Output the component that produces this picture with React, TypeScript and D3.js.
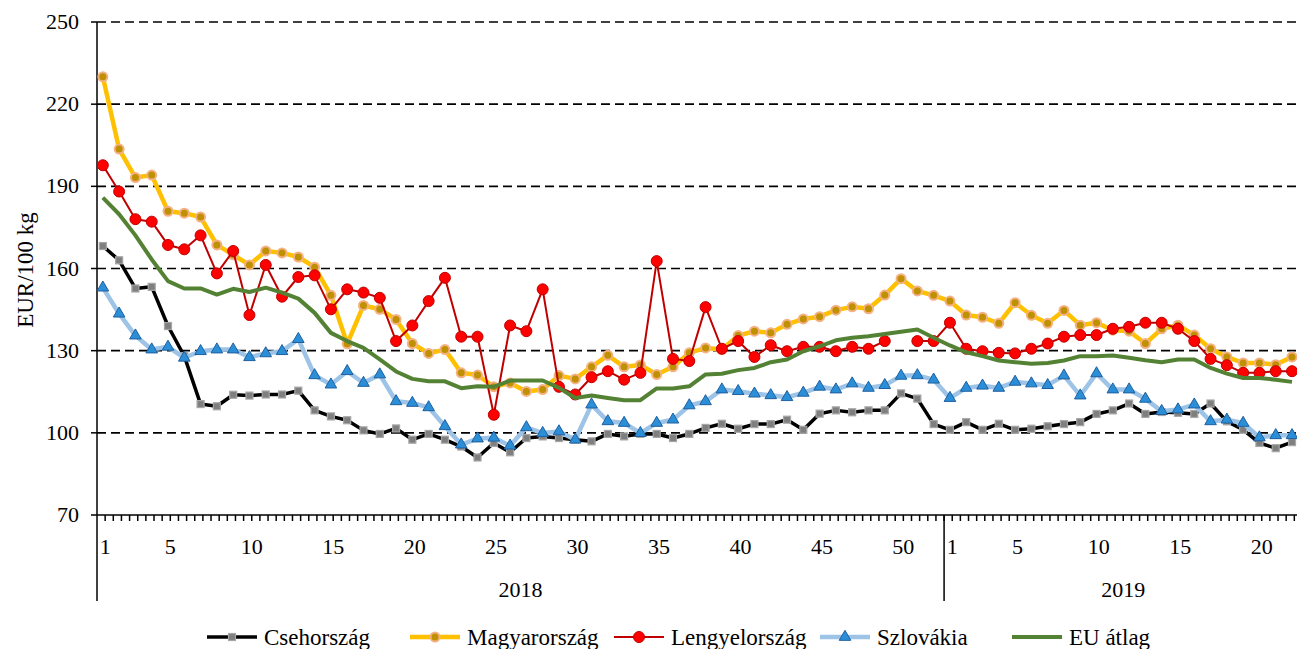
import React, { useEffect, useRef } from 'react'
import * as d3 from 'd3'

// week numbers on the category axis
const weeks2018 = d3.range(1, 53)
const weeks2019 = d3.range(1, 23)
const labelWeeks = [1, 5, 10, 15, 20, 25, 30, 35, 40, 45, 50]
const yTicks = [70, 100, 130, 160, 190, 220, 250]

const cseh = [
  168.2, 163, 152.7, 153.3, 139, 128, 110.5, 109.7, 113.9, 113.6, 114, 114, 115.4,
  108.2, 106, 104.6, 100.9, 99.6, 101.6, 97.5, 99.6, 97.5, 95, 91, 96.3,
  92.9, 98.1, 98.7, 98.1, 97.5, 96.9, 99.6, 98.7, 99.6, 99.6, 98.1, 99.6,
  101.8, 103.3, 101.5, 103.2, 103.2, 104.8, 101.1, 107, 108.2, 107.5, 108.2, 108.2, 114.4,
  112.5, 103.2, 101.1, 103.9, 101.1, 103.3, 101.1, 101.5, 102.4, 103.2, 103.9, 106.9,
  108.2, 110.7, 106.9, 107.6, 107.3, 106.9, 110.7, 104.2, 101.1, 96.3, 94.4, 96.6,
]
const magyar = [
  230, 203.6, 193.2, 194.1, 180.9, 180.2, 178.8, 168.6, 165, 161.3, 166.4, 165.7, 164.2,
  160.5, 150.2, 132.5, 146.5, 145.1, 141.4, 132.6, 129, 130.4, 121.9, 121.1, 116.8,
  118.2, 115.1, 115.8, 120.9, 119.7, 124.1, 128.3, 124.1, 124.8, 121.3, 124.1, 129.2,
  131, 130.4, 135.5, 137.1, 136.5, 139.6, 141.6, 142.4, 144.8, 146, 145.3, 150.3, 156.3,
  151.8, 150.2, 148.1, 143, 142.2, 140, 147.5, 142.9, 140, 144.7, 139.3, 140.2,
  137.5, 137.1, 132.6, 138, 139.3, 135.7, 130.7, 127.7, 125.5, 125.5, 124.9, 127.7,
]
const lengyel = [
  197.7, 188.1, 178, 177.1, 168.6, 167, 172.1, 158.2, 166.4, 143, 161.3, 149.7, 156.9,
  157.5, 145.1, 152.4, 151.2, 149.3, 133.5, 139.2, 148.1, 156.6, 135.1, 135.1, 106.6,
  139.2, 137.1, 152.4, 116.8, 114, 120.3, 122.5, 119.4, 121.9, 162.7, 127, 126.2,
  145.9, 130.7, 133.5, 127.7, 132, 129.8, 131.4, 131.4, 129.8, 131.4, 130.7, 133.5, null,
  133.5, 133.5, 140.2, 130.7, 129.8, 129.2, 129, 130.7, 132.6, 135.1, 135.7, 135.7,
  138, 138.7, 140.2, 140.2, 138, 133.5, 127, 124.7, 121.9, 121.9, 122.5, 122.5,
]
const szlovakia = [
  153, 143.5, 135.5, 130.4, 131.4, 127.4, 129.8, 130.4, 130.4, 127.6, 129, 129.8, 134.2,
  121, 117.6, 122.5, 118.2, 121.3, 111.5, 110.9, 109.3, 102.4, 95.7, 97.9, 98.2,
  95.3, 102, 99.9, 100.5, 97.5, 110.3, 104.2, 103.6, 99.9, 103.6, 104.8, 110,
  111.5, 115.8, 115.2, 114.3, 113.7, 113, 114.6, 116.8, 115.8, 118, 116.4, 117.4, 120.8,
  121, 119.4, 112.7, 116.4, 117.2, 116.4, 118.6, 118, 117.4, 120.9, 113.6, 121.7,
  115.8, 115.8, 112.4, 107.9, 108.5, 110.3, 104.2, 104.8, 103.6, 98.3, 99.1, 99.1,
]
const euAtlag = [
  185.9, 179.8, 172.1, 163.3, 155.4, 152.7, 152.7, 150.5, 152.6, 151.4, 153, 151.2, 149,
  143.8, 136.5, 133.5, 131, 126.8, 122.4, 119.7, 118.8, 118.8, 116.3, 117, 116.8,
  119.1, 119.1, 119.1, 116.4, 112.7, 113.6, 112.7, 111.9, 111.9, 116.2, 116.2, 117,
  121.3, 121.6, 122.9, 123.7, 125.8, 126.8, 129.8, 131.6, 133.8, 134.7, 135.3, 136.1, 136.9,
  137.7, 134.7, 131.9, 129.4, 128, 126.4, 125.8, 125.2, 125.5, 126.4, 128, 128,
  128.2, 127.4, 126.5, 125.8, 126.8, 126.8, 123.7, 121.6, 120, 120, 119.4, 118.6,
]

const series = [
  { name: 'Csehország', values: cseh, color: '#000000', width: 3.5, marker: 'square', fill: '#7f7f7f', stroke: '#a6a6a6' },
  { name: 'Magyarország', values: magyar, color: '#ffc000', width: 4.5, marker: 'circle', r: 4.5, fill: '#bf9000', stroke: '#f4b183' },
  { name: 'Lengyelország', values: lengyel, color: '#c00000', width: 2, marker: 'circle', r: 5.5, fill: '#ff0000', stroke: '#c00000' },
  { name: 'Szlovákia', values: szlovakia, color: '#9dc3e6', width: 4.5, marker: 'triangle', fill: '#2b8fd8', stroke: '#1f5f9f' },
  { name: 'EU átlag', values: euAtlag, color: '#548235', width: 4, marker: 'none' },
]

const FONT = "'Times New Roman', 'Liberation Serif', serif"

export default function App() {
  const ref = useRef<SVGSVGElement>(null)

  useEffect(() => {
    const svg = d3.select(ref.current)
    svg.selectAll('*').remove()

    const left = 97, top = 22, bottom = 515, step = 16.29
    const n = weeks2018.length + weeks2019.length
    const x = d3.scaleBand<number>().domain(d3.range(n)).range([left, left + n * step]).padding(0)
    const y = d3.scaleLinear().domain([70, 250]).range([bottom, top])
    const px = (i: number) => (x(i) as number) + x.bandwidth() / 2 - 2.3

    // dashed gridlines
    svg.append('g').selectAll('line')
      .data(yTicks.filter(t => t > 70))
      .enter().append('line')
      .attr('x1', left).attr('x2', 1297)
      .attr('y1', d => y(d)).attr('y2', d => y(d))
      .attr('stroke', '#000').attr('stroke-width', 1.6)
      .attr('stroke-dasharray', '9 5')

    // y axis
    const ya = svg.append('g')
    ya.append('line').attr('x1', left).attr('x2', left).attr('y1', top).attr('y2', 601)
      .attr('stroke', '#000').attr('stroke-width', 1.5)
    ya.selectAll('.tk').data(yTicks).enter().append('line')
      .attr('x1', left - 6).attr('x2', left).attr('y1', d => y(d)).attr('y2', d => y(d))
      .attr('stroke', '#000').attr('stroke-width', 1.5)
    ya.selectAll('text').data(yTicks).enter().append('text')
      .attr('x', 79).attr('y', d => y(d) + 7)
      .attr('text-anchor', 'end').attr('font-family', FONT).attr('font-size', 22)
      .text(d => d)
    svg.append('text')
      .attr('transform', 'translate(33,270) rotate(-90)')
      .attr('text-anchor', 'middle').attr('font-family', FONT).attr('font-size', 23)
      .text('EUR/100 kg')

    // x axis
    const xa = svg.append('g')
    xa.append('line').attr('x1', left).attr('x2', 1297).attr('y1', bottom).attr('y2', bottom)
      .attr('stroke', '#000').attr('stroke-width', 1.5)
    xa.selectAll('.mt').data(d3.range(1, n * 2)).enter().append('line')
      .attr('x1', k => left + k * step / 2).attr('x2', k => left + k * step / 2)
      .attr('y1', bottom).attr('y2', bottom + 6)
      .attr('stroke', '#000').attr('stroke-width', 1.5)
    const sep = x(weeks2018.length) as number
    xa.append('line').attr('x1', sep).attr('x2', sep).attr('y1', bottom).attr('y2', 601)
      .attr('stroke', '#000').attr('stroke-width', 1.5)

    const labels = [
      ...labelWeeks.filter(w => w <= 52).map(w => ({ w, i: w - 1 })),
      ...labelWeeks.filter(w => w <= 22).map(w => ({ w, i: weeks2018.length + w - 1 })),
    ]
    xa.selectAll('.lb').data(labels).enter().append('text')
      .attr('x', d => (x(d.i) as number) + x.bandwidth() / 2)
      .attr('y', 554)
      .attr('text-anchor', 'middle').attr('font-family', FONT).attr('font-size', 22)
      .text(d => d.w)
    const years = [
      { label: '2018', from: 0, to: weeks2018.length },
      { label: '2019', from: weeks2018.length, to: n },
    ]
    xa.selectAll('.yr').data(years).enter().append('text')
      .attr('x', d => ((x(d.from) as number) + (x(d.to - 1) as number) + x.bandwidth()) / 2)
      .attr('y', 597)
      .attr('text-anchor', 'middle').attr('font-family', FONT).attr('font-size', 22)
      .text(d => d.label)

    // series
    const line = d3.line<number | null>()
      .defined(d => d != null)
      .x((_, i) => px(i))
      .y(d => y(d as number))

    const tri = d3.symbol().type(d3.symbolTriangle).size(58)

    const drawMarker = (g: any, s: any, cx: number, cy: number) => {
      if (s.marker === 'square') {
        g.append('rect').attr('x', cx - 3.5).attr('y', cy - 3.5).attr('width', 7).attr('height', 7)
          .attr('fill', s.fill).attr('stroke', s.stroke).attr('stroke-width', 1.2)
      } else if (s.marker === 'circle') {
        g.append('circle').attr('cx', cx).attr('cy', cy).attr('r', s.r)
          .attr('fill', s.fill).attr('stroke', s.stroke).attr('stroke-width', s.name === 'Magyarország' ? 2 : 1)
      } else if (s.marker === 'triangle') {
        g.append('path').attr('d', tri()).attr('transform', `translate(${cx},${cy})`)
          .attr('fill', s.fill).attr('stroke', s.stroke).attr('stroke-width', 1)
      }
    }

    series.forEach(s => {
      const g = svg.append('g')
      g.append('path').datum(s.values as (number | null)[])
        .attr('d', line)
        .attr('fill', 'none').attr('stroke', s.color).attr('stroke-width', s.width)
        .attr('stroke-linejoin', 'round')
      s.values.forEach((v, i) => {
        if (v == null) return
        drawMarker(g, s, px(i), y(v))
      })
    })

    // legend
    const legX = [207, 410, 614, 820, 1012]
    const ly = 637
    series.forEach((s, k) => {
      const g = svg.append('g')
      g.append('line').attr('x1', legX[k]).attr('x2', legX[k] + 50).attr('y1', ly).attr('y2', ly)
        .attr('stroke', s.color).attr('stroke-width', s.width)
      drawMarker(g, s, legX[k] + 25, ly)
      g.append('text').attr('x', legX[k] + 57).attr('y', ly + 8)
        .attr('font-family', FONT).attr('font-size', 23)
        .text(s.name)
    })
  }, [])

  return (
    <svg ref={ref} width={1297} height={649}
      style={{ position: 'absolute', left: 0, top: 0, background: '#fff' }} />
  )
}
